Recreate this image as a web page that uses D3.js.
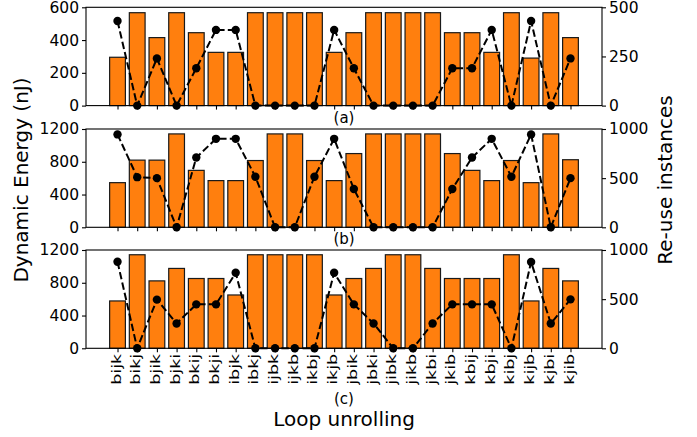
<!DOCTYPE html>
<html>
<head>
<meta charset="utf-8">
<script src="https://cdn.jsdelivr.net/npm/d3@7"></script>
<style>
  body { margin: 0; background: #fff; }
  text { font-family: "DejaVu Sans", sans-serif; fill: #000; }
</style>
</head>
<body>
<div class="canvas"></div>
<script>
// data
const categories = ['bijk','bikj','bjik','bjki','bkij','bkji','ibjk','ibkj','ijbk','ijkb','ikbj','ikjb',
                    'jbik','jbki','jibk','jikb','jkbi','jkib','kbij','kbji','kibj','kijb','kjbi','kjib']

const energyA = [295,567,415,567,445,325,325,567,567,567,567,325,445,567,567,567,567,445,445,325,567,290,567,415]
const reuseA  = [430,0,240,0,190,385,385,0,0,0,0,385,190,0,0,0,0,190,190,385,0,430,0,240]

const energyB = [545,820,820,1140,695,570,570,815,1140,1140,815,570,900,1140,1140,1140,1140,900,695,570,815,545,1140,825]
const reuseB  = [945,510,500,0,710,900,900,515,0,0,515,900,390,0,0,0,0,390,710,900,515,945,0,500]

const energyC = [578,1142,823,975,852,852,651,1142,1142,1142,1142,651,852,975,1142,1142,975,852,852,852,1142,578,975,823]
const reuseC  = [880,0,495,253,447,447,768,0,0,0,0,768,447,253,0,0,253,447,447,447,0,878,253,498]

const leftTicksA = [0,200,400,600]
const rightTicksA = [0,250,500]
const leftTicksBC = [0,400,800,1200]
const rightTicksBC = [0,500,1000]

const panels = [
  {energy: energyA, reuse: reuseA, eMax: 600, rMax: 500, lt: leftTicksA, rt: rightTicksA, tag: '(a)', top: 7.3},
  {energy: energyB, reuse: reuseB, eMax: 1200, rMax: 1000, lt: leftTicksBC, rt: rightTicksBC, tag: '(b)', top: 129},
  {energy: energyC, reuse: reuseC, eMax: 1200, rMax: 1000, lt: leftTicksBC, rt: rightTicksBC, tag: '(c)', top: 250}
]

const width = 697, height = 437
const left = 86, right = 602
const panelHeight = 98.3

const svg = d3.select('.canvas')
  .append('svg')
  .attr('width', width)
  .attr('height', height)

const x = d3.scaleLinear()
  .domain([-1.6, categories.length - 1 + 1.6])
  .range([left, right])
const barW = x(0.8) - x(0)

panels.forEach((p, pi) => {
  const g = svg.append('g').attr('transform', `translate(0, ${p.top})`)

  const yL = d3.scaleLinear().domain([0, p.eMax]).range([panelHeight, 0])
  const yR = d3.scaleLinear().domain([0, p.rMax]).range([panelHeight, 0])

  // bars
  g.selectAll('rect.bar')
    .data(p.energy)
    .enter()
    .append('rect')
    .attr('class', 'bar')
    .attr('x', (d, i) => x(i) - barW / 2)
    .attr('width', barW)
    .attr('y', d => yL(d))
    .attr('height', d => panelHeight - yL(d))
    .attr('fill', '#ff7f0e')
    .attr('stroke', '#1a1a1a')
    .attr('stroke-width', 1.2)

  // re-use line
  const line = d3.line()
    .x((d, i) => x(i))
    .y(d => yR(d))

  g.append('path')
    .datum(p.reuse)
    .attr('d', line)
    .attr('fill', 'none')
    .attr('stroke', '#000')
    .attr('stroke-width', 2)
    .attr('stroke-dasharray', '7.4,3.2')

  g.selectAll('circle')
    .data(p.reuse)
    .enter()
    .append('circle')
    .attr('cx', (d, i) => x(i))
    .attr('cy', d => yR(d))
    .attr('r', 4.2)
    .attr('fill', '#000')

  // frame
  g.append('rect')
    .attr('x', left)
    .attr('y', 0)
    .attr('width', right - left)
    .attr('height', panelHeight)
    .attr('fill', 'none')
    .attr('stroke', '#000')
    .attr('stroke-width', 1.1)

  // axes
  const yAxisL = d3.axisLeft(yL).tickValues(p.lt).tickFormat(d3.format('d')).tickSize(4).tickPadding(3)
  const yAxisR = d3.axisRight(yR).tickValues(p.rt).tickFormat(d3.format('d')).tickSize(4).tickPadding(3)
  const xAxis = d3.axisBottom(x)
    .tickValues(d3.range(categories.length))
    .tickFormat(i => pi === 2 ? categories[i] : '')
    .tickSize(4)

  const lg = g.append('g').attr('transform', `translate(${left}, 0)`).call(yAxisL)
  const rg = g.append('g').attr('transform', `translate(${right}, 0)`).call(yAxisR)
  const xg = g.append('g').attr('transform', `translate(0, ${panelHeight})`).call(xAxis)

  ;[lg, rg, xg].forEach(a => {
    a.select('.domain').remove()
    a.selectAll('line').attr('stroke', '#000').attr('stroke-width', 1.1)
    a.selectAll('text').attr('font-size', 15.5).attr('font-family', '"DejaVu Sans", sans-serif').attr('fill', '#000')
  })

  // rotated category labels, a bit narrow like the reference
  xg.selectAll('text')
    .attr('font-size', 17.5)
    .attr('transform', 'rotate(-90) scale(1, 0.72)')
    .attr('text-anchor', 'end')
    .attr('x', -5.5)
    .attr('y', 0)
    .attr('dy', '0.2em')
})

// panel tags
const tagY = [123, 244, 404]
panels.forEach((p, i) => {
  svg.append('text')
    .attr('x', (left + right) / 2)
    .attr('y', tagY[i])
    .attr('text-anchor', 'middle')
    .attr('font-size', 15)
    .text(p.tag)
})

// axis titles
svg.append('text')
  .attr('transform', `translate(${(left + right) / 2}, 426)`)
  .attr('text-anchor', 'middle')
  .attr('font-size', 20)
  .text('Loop unrolling')

svg.append('text')
  .attr('transform', 'translate(28, 180) rotate(-90)')
  .attr('text-anchor', 'middle')
  .attr('font-size', 20)
  .text('Dynamic Energy (nJ)')

svg.append('text')
  .attr('transform', 'translate(672, 180) rotate(-90)')
  .attr('text-anchor', 'middle')
  .attr('font-size', 20)
  .text('Re-use instances')
</script>
</body>
</html>
